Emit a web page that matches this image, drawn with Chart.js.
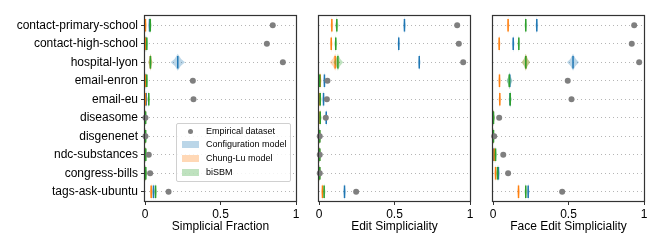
<!DOCTYPE html>
<html>
<head>
<meta charset="utf-8">
<script src="https://cdn.jsdelivr.net/npm/chart.js@4.4.1/dist/chart.umd.min.js"></script>
<style>
  body { margin: 0; background: #fff; }
  #wrap { position: relative; width: 664px; height: 249px; }
  canvas { position: absolute; left: 0; top: 0; }
  #legend {
    position: absolute; left: 176px; top: 123px; width: 113px; height: 57px;
    border: 1px solid #d0d0d0; border-radius: 2px; background: rgba(255,255,255,0.85);
    font: 9px "Liberation Sans", Arial, sans-serif; color: #000;
  }
  .row { position: absolute; left: 0; height: 12px; line-height: 12px; }
  .row span { position: absolute; left: 29px; white-space: nowrap; }
  .patch { position: absolute; left: 5px; top: 3px; width: 17px; height: 7px; }
  .dot { position: absolute; left: 11px; top: 4px; width: 5px; height: 5px; border-radius: 50%; background: #7f7f7f; }
</style>
</head>
<body>
<div id="wrap">
  <canvas id="c1" width="664" height="249"></canvas>
  <canvas id="c2" width="664" height="249"></canvas>
  <canvas id="c3" width="664" height="249"></canvas>
  <div id="legend">
    <div class="row" style="top:1px"><div class="dot"></div><span>Empirical dataset</span></div>
    <div class="row" style="top:14px"><div class="patch" style="background:rgba(31,119,180,0.3)"></div><span>Configuration model</span></div>
    <div class="row" style="top:28px"><div class="patch" style="background:rgba(255,127,14,0.3)"></div><span>Chung-Lu model</span></div>
    <div class="row" style="top:42px"><div class="patch" style="background:rgba(44,160,44,0.3)"></div><span>biSBM</span></div>
  </div>
</div>
<script>
const datasetNames = ["contact-primary-school", "contact-high-school", "hospital-lyon", "email-enron", "email-eu",
  "diseasome", "disgenenet", "ndc-substances", "congress-bills", "tags-ask-ubuntu"];
const xTicks = [0, 0.5, 1];
const xTickLabels = ["0", "0.5", "1"];

// empirical values
const sfEmpirical = [0.846, 0.807, 0.913, 0.317, 0.321, 0.003, 0.003, 0.025, 0.034, 0.156];
const esEmpirical = [0.915, 0.926, 0.955, 0.056, 0.052, 0.045, 0.005, 0.005, 0.005, 0.246];
const fesEmpirical = [0.935, 0.919, 0.968, 0.495, 0.52, 0.041, 0.008, 0.068, 0.1, 0.458];

// violins: [low, median, high]
const sfConfig = [[0.024,0.03,0.036],[0,0.005,0.01],[0.17,0.217,0.265],[0,0.004,0.01],[0.003,0.008,0.013],[0,0.002,0.005],[0,0.002,0.005],[0,0.002,0.005],[0,0.002,0.005],[0.05,0.056,0.062]];
const sfChungLu = [[0,0.003,0.008],[0,0.003,0.007],[0.02,0.036,0.05],[0,0.003,0.007],[0,0.003,0.007],[0,0.002,0.005],[0,0.002,0.005],[0,0.002,0.005],[0,0.002,0.005],[0.035,0.041,0.047]];
const sfBiSBM = [[0.028,0.035,0.042],[0.006,0.012,0.018],[0.022,0.036,0.05],[0.006,0.012,0.018],[0.019,0.025,0.031],[0,0.004,0.009],[0,0.004,0.009],[0,0.005,0.01],[0,0.005,0.01],[0.064,0.07,0.076]];

const esConfig = [[0.56,0.566,0.572],[0.523,0.528,0.533],[0.655,0.664,0.673],[0.03,0.036,0.042],[0.025,0.03,0.035],[0.04,0.048,0.056],[0,0.003,0.006],[0,0.003,0.006],[0,0.003,0.006],[0.165,0.169,0.173]];
const esChungLu = [[0.075,0.085,0.095],[0.072,0.081,0.09],[0.07,0.107,0.14],[0,0.008,0.014],[0,0.004,0.008],[0,0.006,0.012],[0,0.003,0.006],[0,0.003,0.006],[0,0.003,0.006],[0.018,0.023,0.028]];
const esBiSBM = [[0.105,0.118,0.13],[0.1,0.111,0.122],[0.095,0.125,0.16],[0,0.005,0.01],[0,0.008,0.014],[0,0.008,0.018],[0,0.005,0.01],[0,0.005,0.01],[0,0.005,0.01],[0.028,0.034,0.04]];

const fesConfig = [[0.282,0.29,0.298],[0.125,0.134,0.143],[0.49,0.53,0.57],[0.09,0.111,0.13],[0.105,0.113,0.121],[0,0.002,0.005],[0,0.002,0.005],[0,0.004,0.008],[0.03,0.036,0.042],[0.227,0.233,0.239]];
const fesChungLu = [[0.094,0.1,0.106],[0.036,0.041,0.046],[0.19,0.217,0.245],[0.038,0.043,0.048],[0.04,0.045,0.05],[0,0.002,0.005],[0,0.002,0.005],[0.003,0.008,0.013],[0.011,0.017,0.023],[0.164,0.169,0.174]];
const fesBiSBM = [[0.21,0.217,0.224],[0.165,0.171,0.177],[0.19,0.217,0.245],[0.09,0.108,0.125],[0.109,0.114,0.119],[0,0.003,0.006],[0,0.003,0.006],[0.011,0.017,0.023],[0.024,0.03,0.036],[0.211,0.217,0.223]];

Chart.defaults.font.family = '"Liberation Sans", Arial, sans-serif';
Chart.defaults.font.size = 12;
Chart.defaults.color = "#000";

const BLUE = "#1f77b4", ORANGE = "#ff7f0e", GREEN = "#2ca02c";

// draws violin-ish shapes using the chart scales
const violinPlugin = {
  id: "violins",
  beforeDatasetsDraw(chart, args, opts) {
    const { ctx, chartArea, scales: { x, y } } = chart;
    const rowH = Math.abs(y.getPixelForValue(1) - y.getPixelForValue(0));
    ctx.save();
    ctx.beginPath();
    ctx.rect(chartArea.left, chartArea.top, chartArea.right - chartArea.left, chartArea.bottom - chartArea.top);
    ctx.clip();
    opts.groups.forEach(g => {
      g.data.forEach((v, i) => {
        const cy = y.getPixelForValue(i);
        const xm = x.getPixelForValue(v[1]);
        const xl = Math.min(x.getPixelForValue(v[0]), xm - 1.5);
        const xh = Math.max(x.getPixelForValue(v[2]), xm + 1.5);
        const h = rowH * 0.46;
        ctx.beginPath();
        ctx.moveTo(xl, cy);
        ctx.quadraticCurveTo(0.35 * xl + 0.65 * xm, cy - 0.35 * h, xm, cy - h);
        ctx.quadraticCurveTo(0.35 * xh + 0.65 * xm, cy - 0.35 * h, xh, cy);
        ctx.quadraticCurveTo(0.35 * xh + 0.65 * xm, cy + 0.35 * h, xm, cy + h);
        ctx.quadraticCurveTo(0.35 * xl + 0.65 * xm, cy + 0.35 * h, xl, cy);
        ctx.closePath();
        ctx.fillStyle = g.fill;
        ctx.fill();
        ctx.beginPath();
        ctx.moveTo(xm, cy - rowH * 0.34);
        ctx.lineTo(xm, cy + rowH * 0.34);
        ctx.strokeStyle = g.color;
        ctx.lineWidth = 1.5;
        ctx.stroke();
      });
    });
    ctx.restore();
  },
  afterDatasetsDraw(chart) {
    const { ctx, chartArea: a } = chart;
    ctx.save();
    ctx.strokeStyle = "#333";
    ctx.lineWidth = 1.2;
    ctx.strokeRect(a.left - 0.5, a.top - 0.5, a.right - a.left + 1, a.bottom - a.top + 1);
    ctx.restore();
  }
};

function makePanel(id, title, empirical, config, chungLu, bisbm, padLeft, padRight, showLabels) {
  new Chart(document.getElementById(id), {
    type: "scatter",
    data: {
      labels: datasetNames,
      datasets: [{
        label: "Empirical dataset",
        data: empirical.map((v, i) => ({ x: v, y: datasetNames[i] })),
        backgroundColor: "#7f7f7f",
        borderWidth: 0,
        pointRadius: 3,
        clip: false
      }]
    },
    options: {
      responsive: false,
      animation: false,
      layout: { padding: { left: padLeft, right: padRight, top: 16, bottom: 0 } },
      plugins: {
        legend: { display: false },
        tooltip: { enabled: false },
        violins: {
          groups: [
            { data: config, color: BLUE, fill: "rgba(31,119,180,0.3)" },
            { data: chungLu, color: ORANGE, fill: "rgba(255,127,14,0.3)" },
            { data: bisbm, color: GREEN, fill: "rgba(44,160,44,0.3)" }
          ]
        }
      },
      scales: {
        x: {
          type: "linear",
          min: 0,
          max: 1,
          afterBuildTicks: s => { s.ticks = xTicks.map(v => ({ value: v })); },
          ticks: {
            padding: 2, color: "#000", font: { size: 12 },
            callback: v => xTickLabels[xTicks.indexOf(v)]
          },
          grid: { drawOnChartArea: false, tickLength: 4, tickColor: "#333" },
          border: { display: false },
          title: { display: true, text: title, color: "#000", font: { size: 12 }, padding: { top: 0, bottom: 15 } },
          afterFit: s => { s.height = 48; }
        },
        y: {
          type: "category",
          labels: datasetNames,
          offset: true,
          ticks: { display: showLabels, autoSkip: false, padding: 3, color: "#000", font: { size: 12 } },
          grid: { color: "#b5b5b5", lineWidth: 1, drawTicks: showLabels, tickLength: 4, tickColor: "#333" },
          border: { display: false, dash: [1, 3] },
          afterFit: s => { s.width = showLabels ? 145 : 0; }
        }
      }
    },
    plugins: [violinPlugin]
  });
}

makePanel("c1", "Simplicial Fraction", sfEmpirical, sfConfig, sfChungLu, sfBiSBM, 0, 368, true);
makePanel("c2", "Edit Simpliciality", esEmpirical, esConfig, esChungLu, esBiSBM, 319, 194, false);
makePanel("c3", "Face Edit Simpliciality", fesEmpirical, fesConfig, fesChungLu, fesBiSBM, 493, 20, false);
</script>
</body>
</html>
